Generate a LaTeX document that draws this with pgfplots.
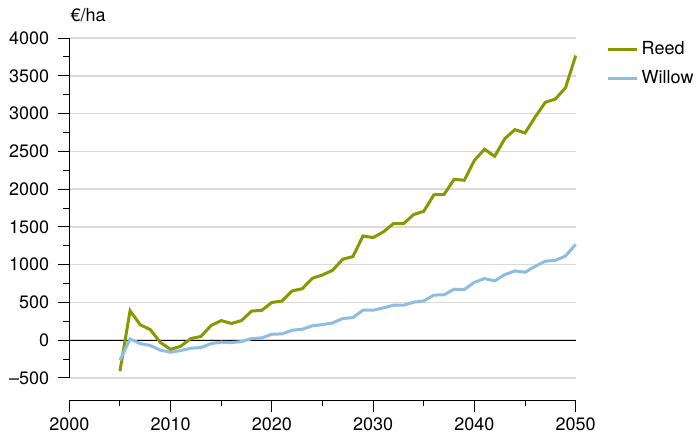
\documentclass[border=0pt]{standalone}
\usepackage{pgfplots}
\pgfplotsset{compat=1.18}
\usepackage{fontspec}
\setmainfont{TeX Gyre Heros}
\definecolor{reed}{RGB}{134,154,0}
\definecolor{willow}{RGB}{141,189,226}
\definecolor{gridc}{RGB}{218,218,218}
\begin{document}
\begin{tikzpicture}[font=\fontsize{10.8}{13}\selectfont]
\path[use as bounding box] (0pt,0pt) rectangle (417.6pt,262.2pt);
\begin{axis}[
  at={(41.58pt,35.4pt)}, anchor=south west,
  scale only axis, width=303.84pt, height=204pt,
  xmin=2000, xmax=2050, ymin=-500, ymax=4000,
  axis y line*=left, hide x axis,
  axis line style={line width=0.6pt},
  ytick={-500,0,500,1000,1500,2000,2500,3000,3500,4000},
  yticklabels={\textendash500,0,500,1000,1500,2000,2500,3000,3500,4000},
  minor y tick num=1,
  tick align=outside,
  major tick length=6.6pt, minor tick length=3.6pt,
  every tick/.style={black, line width=0.6pt},
  ymajorgrids, major grid style={gridc, line width=0.9pt},
  extra y ticks={0}, extra y tick labels={},
  extra y tick style={major grid style={black, line width=0.6pt}},
  yticklabel style={font=\fontsize{10.8}{13}\selectfont, xshift=-2pt},
  legend style={at={(1.06,1.0)}, anchor=north west, draw=none, fill=none,
    inner sep=0pt, row sep=4pt, cells={anchor=west},
    font=\fontsize{10.8}{13}\selectfont},
  legend image code/.code={\draw[#1] (0pt,0pt) -- (17.4pt,0pt);},
  clip=false,
]
\addplot[reed, line width=1.8pt] coordinates {
(2005,-410) (2006,390) (2007,205) (2008,140) (2009,-30) (2010,-122) (2011,-80)
(2012,22) (2013,50) (2014,195) (2015,260) (2016,222) (2017,260) (2018,386)
(2019,395) (2020,500) (2021,518) (2022,652) (2023,682) (2024,820) (2025,864)
(2026,926) (2027,1072) (2028,1107) (2029,1380) (2030,1358) (2031,1433)
(2032,1543) (2033,1543) (2034,1663) (2035,1707) (2036,1925) (2037,1929)
(2038,2130) (2039,2117) (2040,2381) (2041,2527) (2042,2434) (2043,2668)
(2044,2787) (2045,2743) (2046,2955) (2047,3149) (2048,3193) (2049,3343)
(2050,3767)};
\addlegendentry{Reed}
\addplot[willow, line width=1.8pt] coordinates {
(2005,-265) (2006,17) (2007,-44) (2008,-70) (2009,-132) (2010,-159) (2011,-136)
(2012,-106) (2013,-97) (2014,-44) (2015,-26) (2016,-31) (2017,-18) (2018,22)
(2019,31) (2020,79) (2021,84) (2022,132) (2023,146) (2024,190) (2025,207)
(2026,229) (2027,287) (2028,300) (2029,397) (2030,397) (2031,428) (2032,463)
(2033,463) (2034,503) (2035,520) (2036,597) (2037,602) (2038,675) (2039,671)
(2040,767) (2041,816) (2042,785) (2043,869) (2044,917) (2045,900) (2046,979)
(2047,1045) (2048,1058) (2049,1115) (2050,1270)};
\addlegendentry{Willow}
\node[anchor=base west, inner sep=0pt] at (axis description cs:0,1) [yshift=10.2pt, xshift=0.6pt] {€/ha};
\end{axis}
\begin{axis}[
  at={(41.58pt,21.6pt)}, anchor=south west,
  scale only axis, width=303.84pt, height=6pt,
  xmin=2000, xmax=2050, ymin=0, ymax=1,
  axis x line*=bottom, hide y axis,
  axis line style={line width=0.6pt},
  xtick={2000,2010,2020,2030,2040,2050},
  minor x tick num=1,
  tick align=outside,
  major tick length=6.6pt, minor tick length=3pt,
  every tick/.style={black, line width=0.6pt},
  xticklabel style={font=\fontsize{10.8}{13}\selectfont},
  /pgf/number format/assume math mode=true,
  /pgf/number format/1000 sep={},
]
\end{axis}
\end{tikzpicture}
\end{document}
